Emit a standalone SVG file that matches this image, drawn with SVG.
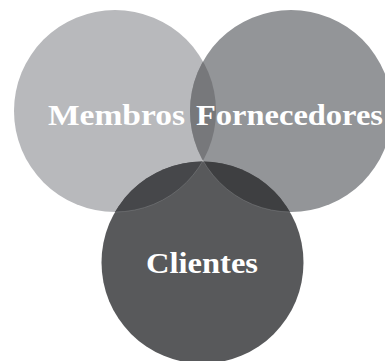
<svg xmlns="http://www.w3.org/2000/svg" width="385" height="361" viewBox="0 0 385 361">
  <style>
    .lbl { font-family: "Liberation Serif", "DejaVu Serif", serif; font-weight: bold; font-size: 30px; fill: #ffffff; }
    .edge { fill: none; stroke: #8a8b8e; stroke-width: 0.7; stroke-opacity: 0.6; }
  </style>
  <defs>
    <clipPath id="clipL"><circle cx="115" cy="111" r="101"/></clipPath>
    <clipPath id="clipR"><circle cx="291" cy="111" r="101"/></clipPath>
    <clipPath id="clipB"><circle cx="202.5" cy="262.5" r="101"/></clipPath>
  </defs>
  <rect width="385" height="361" fill="#ffffff"/>
  <g id="membros">
    <circle cx="115" cy="111" r="101" fill="#b8b9bc"/>
  </g>
  <g id="fornecedores">
    <circle cx="291" cy="111" r="101" fill="#939598"/>
  </g>
  <g id="clientes">
    <circle cx="202.5" cy="262.5" r="101" fill="#58595b"/>
  </g>
  <g id="overlaps">
    <circle cx="291" cy="111" r="101" fill="#77787b" clip-path="url(#clipL)"/>
    <circle cx="202.5" cy="262.5" r="101" fill="#46474a" clip-path="url(#clipL)"/>
    <circle cx="202.5" cy="262.5" r="101" fill="#3e3f41" clip-path="url(#clipR)"/>
    <circle class="edge" cx="115" cy="111" r="101" clip-path="url(#clipB)"/>
    <circle class="edge" cx="291" cy="111" r="101" clip-path="url(#clipB)"/>
  </g>
  <g id="labels">
    <text class="lbl" x="48" y="125" textLength="137" lengthAdjust="spacingAndGlyphs">Membros</text>
    <text class="lbl" x="196" y="125" textLength="187" lengthAdjust="spacingAndGlyphs">Fornecedores</text>
    <text class="lbl" x="146" y="273" textLength="112" lengthAdjust="spacingAndGlyphs">Clientes</text>
  </g>
</svg>
